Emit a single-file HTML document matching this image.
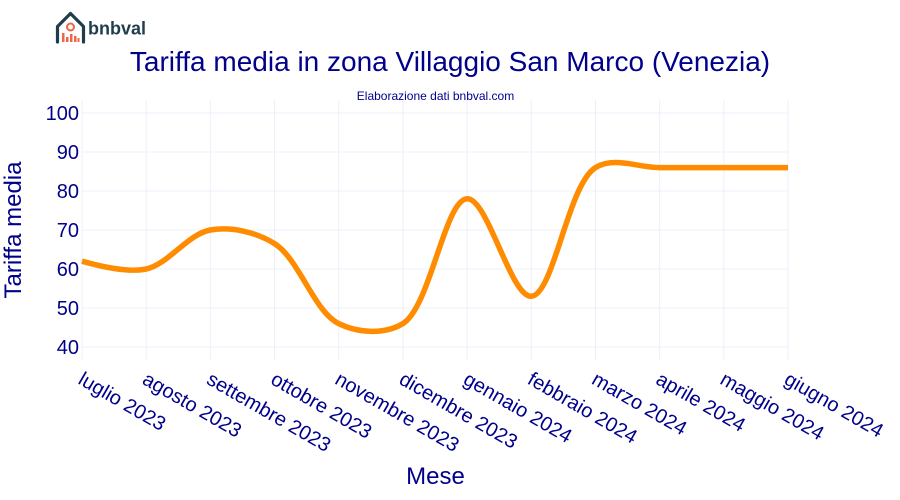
<!DOCTYPE html>
<html>
<head>
<meta charset="utf-8">
<style>
html,body{margin:0;padding:0;background:#fff;}
svg{display:block;font-family:"Liberation Sans",Arial,sans-serif;}
</style>
</head>
<body>
<svg id="chart" width="900" height="500" viewBox="0 0 900 500" xmlns="http://www.w3.org/2000/svg">
  <rect width="900" height="500" fill="#fff"/>
  <g id="grid"></g>
  <g id="yticks"></g>
  <g id="xticks"></g>
  <path id="line" fill="none" stroke="#ff8c00" stroke-width="5.500" stroke-linejoin="round"></path>
  <text x="450" y="71" text-anchor="middle" font-size="28" fill="#00008b">Tariffa media in zona Villaggio San Marco (Venezia)</text>
  <text x="435.500" y="100" text-anchor="middle" font-size="12" fill="#00008b">Elaborazione dati bnbval.com</text>
  <text transform="translate(21 230) rotate(-90)" text-anchor="middle" font-size="24" fill="#00008b">Tariffa media</text>
  <text x="435.500" y="484" text-anchor="middle" font-size="24" fill="#00008b">Mese</text>
  <g>
    <path d="M57.500 42V26.500L70.500 13.500L83.500 26.500V42" fill="none" stroke="#1f3d4d" stroke-width="3.200" stroke-linejoin="round" stroke-linecap="round"/>
    <circle cx="70.500" cy="27" r="3.500" fill="none" stroke="#f0654a" stroke-width="2"/>
    <path d="M62 33h2.500v9h-2.500zM66 37h2.500v5h-2.500zM70 34h2.500v8h-2.500zM74 36h2.500v6h-2.500zM77.500 38h2v4h-2z" fill="#f0654a"/>
    <text x="88" y="34.500" font-size="18" font-weight="700" fill="#1f3d4d">bnbval</text>
  </g>
</svg>
<script>
const categories = ["luglio 2023","agosto 2023","settembre 2023","ottobre 2023","novembre 2023","dicembre 2023","gennaio 2024","febbraio 2024","marzo 2024","aprile 2024","maggio 2024","giugno 2024"];
const fareValues = [62, 60, 70, 66.5, 46, 46, 78, 53, 86, 86, 86, 86];
const yTickValues = [40, 50, 60, 70, 80, 90, 100];

const xLeft = 82, xRight = 788, plotTop = 100, plotBottom = 360;
function xScale(i){ return xLeft + (xRight - xLeft) * i / (categories.length - 1); }
function yScale(v){ return 347 - (v - 40) * 3.9; }

const NS = 'http://www.w3.org/2000/svg';
const grid = document.getElementById('grid');
const yticks = document.getElementById('yticks');
const xticks = document.getElementById('xticks');

yTickValues.forEach(function(v){
  const y = yScale(v);
  const l = document.createElementNS(NS, 'line');
  
  
  l.setAttribute('x1', xLeft); l.setAttribute('x2', xRight);
  l.setAttribute('y1', y); l.setAttribute('y2', y);
  l.setAttribute('stroke', '#ebf0f8'); l.setAttribute('stroke-width', '1');
  grid.appendChild(l);
  const t = document.createElementNS(NS, 'text');
  
  
  t.setAttribute('x', 79); t.setAttribute('y', y + 7);
  t.setAttribute('text-anchor', 'end');
  t.setAttribute('font-size', '20');
  t.setAttribute('fill', '#00008b');
  t.textContent = v;
  yticks.appendChild(t);
});

categories.forEach(function(c, i){
  const x = xScale(i);
  const l = document.createElementNS(NS, 'line');
  
  
  l.setAttribute('x1', x); l.setAttribute('x2', x);
  l.setAttribute('y1', plotTop); l.setAttribute('y2', plotBottom);
  l.setAttribute('stroke', '#ebf0f8'); l.setAttribute('stroke-width', '1');
  grid.appendChild(l);
  const t = document.createElementNS(NS, 'text');
  
  
  t.setAttribute('x', x - 5); t.setAttribute('y', 383);
  t.setAttribute('transform', 'rotate(30 ' + (x - 5) + ' 383)');
  t.setAttribute('font-size', '20');
  t.setAttribute('fill', '#00008b');
  t.textContent = c;
  xticks.appendChild(t);
});

const smoothness = 1;
const catmullRomExp = 0.5;
function tangent(p, c, n){
  const d1x = p[0]-c[0], d1y = p[1]-c[1], d2x = n[0]-c[0], d2y = n[1]-c[1];
  const d1a = Math.pow(d1x*d1x + d1y*d1y, catmullRomExp*smoothness/2);
  const d2a = Math.pow(d2x*d2x + d2y*d2y, catmullRomExp*smoothness/2);
  const numx = (d2a*d2a*d1x - d1a*d1a*d2x) * smoothness;
  const numy = (d2a*d2a*d1y - d1a*d1a*d2y) * smoothness;
  const den1 = 3*d2a*(d1a+d2a), den2 = 3*d1a*(d1a+d2a);
  return [[c[0]+(den1 ? numx/den1 : 0), c[1]+(den1 ? numy/den1 : 0)],
          [c[0]-(den2 ? numx/den2 : 0), c[1]-(den2 ? numy/den2 : 0)]];
}
const pts = fareValues.map(function(v, i){ return [xScale(i), yScale(v)]; });
const tans = [];
for (let i = 1; i < pts.length - 1; i++) tans.push(tangent(pts[i-1], pts[i], pts[i+1]));
let d = 'M' + pts[0] + 'Q' + tans[0][0] + ' ' + pts[1];
for (let i = 2; i < pts.length - 1; i++) d += 'C' + tans[i-2][1] + ' ' + tans[i-1][0] + ' ' + pts[i];
d += 'Q' + tans[tans.length-1][1] + ' ' + pts[pts.length-1];
document.getElementById('line').setAttribute('d', d);
</script>
</body>
</html>
